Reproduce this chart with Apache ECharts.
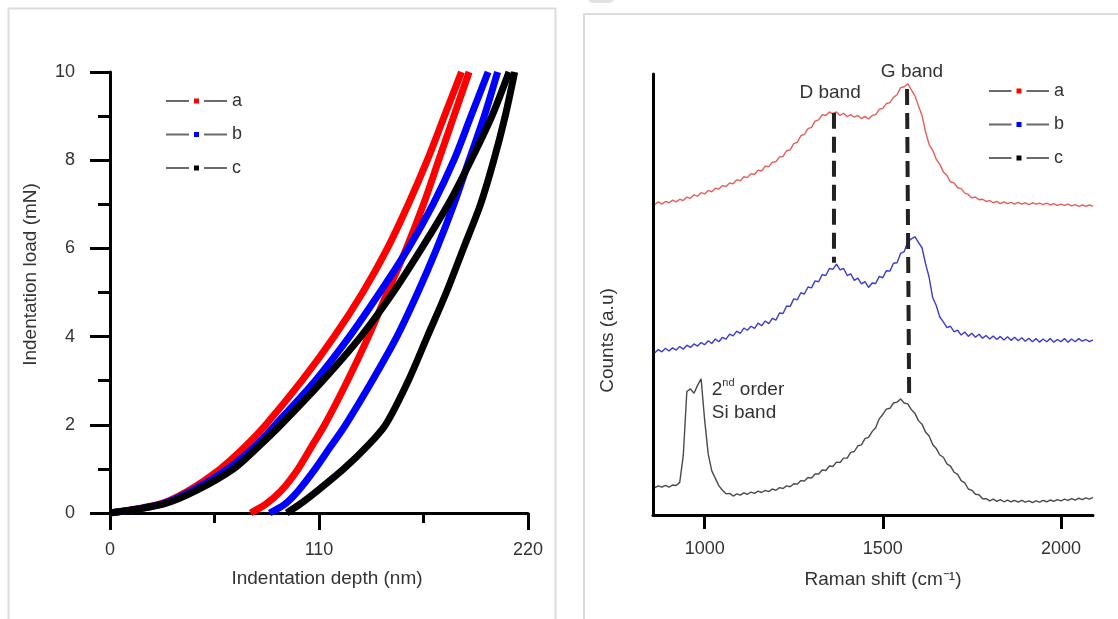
<!DOCTYPE html>
<html>
<head>
<meta charset="utf-8">
<title>Indentation and Raman</title>
<script src="https://cdn.jsdelivr.net/npm/echarts@6.0.0/dist/echarts.min.js"></script>
<style>
  html, body { margin: 0; padding: 0; background: #fff; }
  #main { width: 1118px; height: 619px; }
</style>
</head>
<body>
<div id="main"></div>
<script>
// ---------- left panel: load-depth curves ----------
var loadLevels = [0, 0.2, 0.5, 1, 1.5, 2, 3, 4, 5, 6, 7, 8, 9, 10];
var aLoad   = [0, 26, 41, 58, 71, 82, 101, 118, 133, 146, 157, 167, 176, 185];
var aUnload = [74, 82, 90, 99, 106, 113, 125, 136, 146, 156, 165, 173, 181, 189];
var bLoad   = [0, 27, 43, 62, 76, 87, 108, 126, 142, 157, 170, 181, 190, 199];
var bUnload = [84, 92, 99, 108, 116, 124, 138, 151, 162, 172, 181, 189, 197, 204];
var cLoad   = [0, 28, 45, 65, 78, 90, 112, 132, 149, 164, 178, 190, 201, 210];
var cUnload = [93, 100, 109, 123, 135, 145, 157, 167, 177, 186, 195, 202, 208, 213];

// ---------- right panel: Raman spectra ----------
var ramanShift = [
  860, 870, 880, 890, 900, 910, 920, 930, 940, 950,
  960, 970, 980, 990, 1000, 1010, 1020, 1030, 1040, 1050,
  1060, 1070, 1080, 1090, 1100, 1110, 1120, 1130, 1140, 1150,
  1160, 1170, 1180, 1190, 1200, 1210, 1220, 1230, 1240, 1250,
  1260, 1270, 1280, 1290, 1300, 1310, 1320, 1330, 1340, 1350,
  1360, 1370, 1380, 1390, 1400, 1410, 1420, 1430, 1440, 1450,
  1460, 1470, 1480, 1490, 1500, 1510, 1520, 1530, 1540, 1550,
  1560, 1570, 1580, 1590, 1600, 1610, 1620, 1630, 1640, 1650,
  1660, 1670, 1680, 1690, 1700, 1710, 1720, 1730, 1740, 1750,
  1760, 1770, 1780, 1790, 1800, 1810, 1820, 1830, 1840, 1850,
  1860, 1870, 1880, 1890, 1900, 1910, 1920, 1930, 1940, 1950,
  1960, 1970, 1980, 1990, 2000, 2010, 2020, 2030, 2040, 2050,
  2060, 2070, 2080, 2090
];
var ramanA = [
  70.4, 71.0, 70.5, 71.1, 70.8, 71.4, 71.0, 71.6, 71.3, 72.1,
  71.8, 72.6, 72.3, 73.1, 72.8, 73.6, 73.3, 74.1, 73.9, 74.7,
  74.5, 75.3, 75.1, 76.0, 75.8, 76.7, 76.5, 77.4, 77.2, 78.2,
  78.0, 79.1, 79.0, 80.0, 80.1, 81.2, 81.3, 82.6, 82.8, 84.2,
  84.5, 86.0, 86.3, 87.6, 87.9, 89.3, 89.6, 90.8, 90.6, 91.4,
  90.9, 91.4, 90.6, 91.1, 90.3, 90.8, 90.2, 90.6, 89.9, 90.4,
  89.8, 90.6, 90.8, 92.0, 92.2, 93.3, 93.5, 94.7, 95.3, 96.9,
  97.1, 97.8, 96.4, 95.1, 92.8, 90.6, 86.9, 84.0, 82.7, 80.7,
  79.5, 77.8, 77.0, 75.5, 75.3, 74.2, 74.0, 73.0, 72.7, 71.9,
  72.1, 71.5, 71.6, 71.1, 71.3, 70.8, 71.1, 70.6, 71.0, 70.6,
  70.9, 70.5, 70.9, 70.5, 70.8, 70.4, 70.8, 70.5, 70.7, 70.4,
  70.7, 70.3, 70.6, 70.2, 70.5, 70.2, 70.5, 70.1, 70.4, 70.0,
  70.3, 70.0, 70.3, 70.0
];
var ramanB = [
  36.8, 37.5, 37.0, 37.8, 37.2, 37.9, 37.4, 38.2, 37.6, 38.5,
  38.0, 38.8, 38.3, 39.1, 38.6, 39.5, 38.9, 39.9, 39.3, 40.3,
  39.9, 41.0, 40.6, 41.7, 41.2, 42.4, 41.9, 42.8, 42.3, 43.5,
  42.9, 44.0, 43.4, 44.6, 44.2, 45.8, 45.7, 47.4, 47.3, 49.0,
  48.8, 50.4, 50.1, 51.7, 51.5, 53.1, 52.9, 54.5, 54.3, 55.9,
  55.7, 56.9, 55.6, 55.9, 54.3, 54.7, 53.2, 53.7, 52.4, 52.9,
  51.6, 52.6, 52.5, 54.1, 53.8, 55.4, 55.3, 57.1, 57.2, 59.3,
  59.7, 62.0, 62.6, 63.1, 61.8, 60.6, 57.0, 53.9, 49.3, 47.5,
  44.9, 43.8, 42.5, 42.8, 41.5, 41.9, 40.8, 41.5, 40.5, 41.2,
  40.3, 41.0, 40.1, 40.7, 39.9, 40.6, 39.8, 40.5, 39.7, 40.4,
  39.6, 40.3, 39.5, 40.2, 39.4, 40.1, 39.3, 40.0, 39.2, 39.9,
  39.3, 40.0, 39.2, 39.8, 39.3, 40.0, 39.2, 39.9, 39.3, 40.0,
  39.4, 39.8, 39.3, 39.7
];
var ramanC = [
  6.2, 6.6, 6.3, 6.7, 6.3, 6.8, 6.7, 7.4, 13.5, 28.0,
  28.6, 27.6, 29.4, 30.9, 21.5, 13.8, 10.0, 8.3, 6.6, 5.6,
  4.8, 4.9, 4.3, 4.8, 4.5, 5.0, 4.7, 5.2, 4.9, 5.4,
  5.1, 5.6, 5.3, 5.9, 5.6, 6.2, 6.0, 6.6, 6.4, 7.1,
  7.0, 7.8, 7.7, 8.5, 8.4, 9.3, 9.3, 10.2, 10.1, 11.1,
  11.0, 12.0, 11.9, 12.9, 12.9, 14.2, 14.4, 15.7, 15.9, 17.3,
  17.6, 18.9, 19.8, 21.8, 22.8, 24.0, 24.2, 25.4, 25.6, 26.3,
  25.4, 25.2, 23.9, 23.1, 21.4, 20.6, 18.8, 17.9, 16.0, 15.1,
  13.6, 13.1, 11.6, 11.1, 9.7, 9.2, 7.8, 7.3, 5.9, 5.6,
  4.7, 4.6, 3.7, 3.7, 3.2, 3.6, 3.1, 3.5, 3.0, 3.4,
  3.0, 3.3, 2.9, 3.3, 2.9, 3.2, 2.8, 3.2, 2.9, 3.3,
  3.0, 3.4, 3.1, 3.5, 3.2, 3.6, 3.3, 3.7, 3.4, 3.8,
  3.5, 3.9, 3.6, 4.0
];
var xTicksRaman = [1000, 1500, 2000];

// band marker lines and annotations (in data units)
var dBandLine = [[1363, 91.2], [1363, 57.2]];
var gBandLine = [[1568, 96.6], [1574, 26.7]];
var dBandLabel = [1352, 95.7];
var gBandLabel = [1582, 100.6];
var siBandLabel = [1020, 25.9];

var FONT = 'Liberation Sans';
var TXT = '#333';

function pairs(xs, ys) {
  return xs.map(function (x, i) { return [x, ys[i]]; });
}

function curve(name, color, depth) {
  return {
    name: name, type: 'line', xAxisIndex: 0, yAxisIndex: 0,
    data: pairs(depth, loadLevels),
    symbol: 'rect', showSymbol: false, smooth: 0.3,
    lineStyle: { color: color, width: 7 },
    itemStyle: { color: color },
    silent: true
  };
}

function spectrum(name, color, ys) {
  return {
    name: name, type: 'line', xAxisIndex: 1, yAxisIndex: 1,
    data: pairs(ramanShift, ys),
    symbol: 'rect', showSymbol: false,
    lineStyle: { color: color, width: 1.4 },
    itemStyle: { color: color },
    silent: true
  };
}

function bandLine(pts) {
  return {
    type: 'line', xAxisIndex: 1, yAxisIndex: 1, data: pts,
    symbol: 'none', silent: true, z: 5,
    lineStyle: { color: '#222', width: 4, type: [16, 8], cap: 'butt' }
  };
}

var axisBlack = { color: '#000', width: 3 };
var tickText = { fontSize: 18, color: TXT, fontFamily: FONT };
var nameText = { fontSize: 19, color: TXT, fontFamily: FONT };

function legendAt(left, top, w) {
  return {
    orient: 'vertical', left: left, top: top, padding: 0,
    data: ['a', 'b', 'c'], selectedMode: false,
    itemWidth: w, itemHeight: 12.5, itemGap: 15.5,
    textStyle: { fontSize: 18, color: TXT, fontFamily: FONT, lineHeight: 18 },
    lineStyle: { color: '#6a6a6a', width: 2 },
    itemStyle: { borderColor: '#fff', borderWidth: 5 }
  };
}

var frames = [
  { id: 'f1', type: 'rect', silent: true, z: -10, shape: { x: 8.5, y: 8.5, width: 547, height: 640 },
    style: { fill: 'none', stroke: '#dcdcdc', lineWidth: 2 } },
  { id: 'f2', type: 'rect', silent: true, z: -10, shape: { x: 584, y: 14, width: 560, height: 640 },
    style: { fill: 'none', stroke: '#dcdcdc', lineWidth: 2 } },
  { id: 'f3', type: 'rect', silent: true, z: -10, shape: { x: 588, y: -8, width: 26, height: 11, r: 5 },
    style: { fill: '#e2e2e2' } }
];

var myChart = echarts.init(document.getElementById('main'));

var option = {
  backgroundColor: '#fff',
  animation: false,
  graphic: frames,
  legend: [legendAt(165, 92, 61), legendAt(988, 82, 60)],
  grid: [
    { left: 110, top: 72, width: 418, height: 441, outerBoundsMode: 'none' },
    { left: 653, top: 74, width: 440, height: 441, outerBoundsMode: 'none' }
  ],
  xAxis: [
    {
      gridIndex: 0, type: 'value', min: 0, max: 220, interval: 110,
      axisLine: { onZero: false, lineStyle: axisBlack },
      axisTick: { length: 17, lineStyle: axisBlack },
      minorTick: { show: true, splitNumber: 2, length: 10, lineStyle: axisBlack },
      splitLine: { show: false }, minorSplitLine: { show: false },
      axisLabel: Object.assign({ margin: 28 }, tickText),
      name: 'Indentation depth (nm)', nameLocation: 'middle', nameGap: 56,
      nameTextStyle: Object.assign({ padding: [0, 0, 0, 16] }, nameText)
    },
    {
      gridIndex: 1, type: 'value', min: 855, max: 2090,
      axisLine: { onZero: false, lineStyle: axisBlack },
      axisTick: { length: 14, lineStyle: axisBlack, customValues: xTicksRaman },
      splitLine: { show: false },
      axisLabel: Object.assign({
        margin: 25, customValues: xTicksRaman,
        formatter: function (v) { return String(v); }
      }, tickText),
      name: 'Raman shift (cm\u207B\u00B9)', nameLocation: 'middle', nameGap: 55,
      nameTextStyle: Object.assign({ padding: [0, 0, 0, 20] }, nameText)
    }
  ],
  yAxis: [
    {
      gridIndex: 0, type: 'value', min: 0, max: 10, interval: 2,
      axisLine: { show: true, onZero: false, lineStyle: axisBlack },
      axisTick: { show: true, length: 20, lineStyle: axisBlack },
      minorTick: { show: true, splitNumber: 2, length: 12, lineStyle: axisBlack },
      splitLine: { show: false }, minorSplitLine: { show: false },
      axisLabel: Object.assign({ margin: 35 }, tickText),
      name: 'Indentation load (mN)', nameLocation: 'middle', nameGap: 70,
      nameTextStyle: Object.assign({ padding: [0, 0, 0, 36] }, nameText)
    },
    {
      gridIndex: 1, type: 'value', min: 0, max: 100,
      axisLine: { show: true, onZero: false, lineStyle: axisBlack },
      axisTick: { show: false }, axisLabel: { show: false },
      splitLine: { show: false },
      name: 'Counts (a.u)', nameLocation: 'middle', nameGap: 36,
      nameTextStyle: Object.assign({ padding: [0, 92, 0, 0] }, nameText)
    }
  ],
  series: [
    curve('a', '#ff0000', aLoad),
    curve('a', '#ff0000', aUnload),
    curve('b', '#0000ff', bLoad),
    curve('b', '#0000ff', bUnload),
    curve('c', '#000000', cLoad),
    curve('c', '#000000', cUnload),
    spectrum('a', '#e4605c', ramanA),
    spectrum('b', '#3b3bd6', ramanB),
    spectrum('c', '#4a4a4a', ramanC),
    bandLine(dBandLine),
    bandLine(gBandLine)
  ]
};

myChart.setOption(option);

// annotation texts, placed through the right panel's scales
function at(coord) { return myChart.convertToPixel({ gridIndex: 1 }, coord); }
var pD = at(dBandLabel), pG = at(gBandLabel), pS = at(siBandLabel);
var notes = [
  { id: 'tD', type: 'text', x: pD[0], y: pD[1], z: 10,
    style: { text: 'D band', fontSize: 19, fontFamily: FONT, fill: TXT,
             align: 'center', verticalAlign: 'middle', textAlign: 'center', textVerticalAlign: 'middle' } },
  { id: 'tG', type: 'text', x: pG[0], y: pG[1], z: 10,
    style: { text: 'G band', fontSize: 19, fontFamily: FONT, fill: TXT,
             align: 'center', verticalAlign: 'middle', textAlign: 'center', textVerticalAlign: 'middle' } },
  { id: 'tS', type: 'text', x: pS[0], y: pS[1], z: 10,
    style: { text: '2{sup|nd} order\nSi band', fontSize: 19, fontFamily: FONT, fill: TXT,
             lineHeight: 23,
             rich: { sup: { fontSize: 11, fontFamily: FONT, fill: TXT, verticalAlign: 'top', lineHeight: 14 } },
             align: 'left', verticalAlign: 'middle', textAlign: 'left', textVerticalAlign: 'middle' } }
];
myChart.setOption({ graphic: frames.concat(notes) });
</script>
</body>
</html>
